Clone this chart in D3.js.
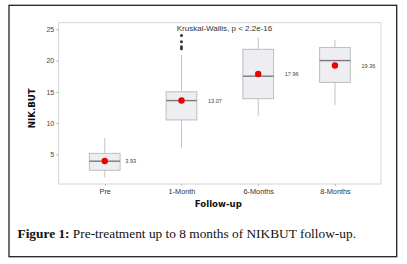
<!DOCTYPE html>
<html>
<head>
<meta charset="utf-8">
<script src="https://cdn.jsdelivr.net/npm/d3@7"></script>
<style>
  body { margin: 0; background: #fff; }
  svg { display: block; }
</style>
</head>
<body>
<div id="chart"></div>
<script>
const width = 407;
const height = 264;
const margin = { top: 22.7, right: 26, bottom: 80, left: 58.7 };

// values
const categories = ["Pre", "1-Month", "6-Months", "8-Months"];
const whiskerLow = [1.3, 6.0, 11.1, 12.9];
const q1 = [2.45, 10.5, 13.9, 16.5];
const median = [3.9, 13.6, 17.5, 20.0];
const q3 = [5.15, 15.0, 21.8, 22.1];
const whiskerHigh = [7.6, 20.9, 23.7, 23.3];
const meanValues = [3.93, 13.6, 17.85, 19.2];
const meanLabels = ["3.93", "13.07", "17.96", "19.36"];
const outliers = [[], [21.9, 22.2, 23.0, 24.0], [], []];
const yTicks = [5, 10, 15, 20, 25];

const svg = d3.select("#chart").append("svg")
  .attr("width", width)
  .attr("height", height)
  .attr("viewBox", [0, 0, width, height]);

// outer frame
svg.append("rect")
  .attr("x", 9).attr("y", 5.3)
  .attr("width", 387.7).attr("height", 251.4)
  .attr("fill", "none")
  .attr("stroke", "#222")
  .attr("stroke-width", 1.3);

const panelBottom = 184;
const x = d3.scalePoint()
  .domain(categories)
  .range([margin.left, width - margin.right])
  .padding(0.6);

const y = d3.scaleLinear()
  .domain([0.25, 26.06])
  .range([panelBottom, margin.top]);

const boxW = x.step() * 0.4;

// panel
svg.append("rect")
  .attr("x", margin.left).attr("y", margin.top)
  .attr("width", width - margin.right - margin.left)
  .attr("height", panelBottom - margin.top)
  .attr("fill", "#fff")
  .attr("stroke", "#d4d4d4")
  .attr("stroke-width", 1);

// y axis
const yAxis = svg.append("g")
  .attr("transform", `translate(${margin.left},0)`)
  .call(d3.axisLeft(y).tickValues(yTicks).tickSize(2.5).tickPadding(2));
yAxis.select(".domain").remove();
yAxis.selectAll("line").attr("stroke", "#bbb");
yAxis.selectAll("text")
  .attr("fill", "#444")
  .style("font", "7px 'Liberation Sans', Arial, sans-serif");

// x axis
const xAxis = svg.append("g")
  .attr("transform", `translate(0,${panelBottom})`)
  .call(d3.axisBottom(x).tickSize(2).tickPadding(2.5));
xAxis.select(".domain").remove();
xAxis.selectAll("line").attr("stroke", "#bbb");
xAxis.selectAll("text")
  .attr("fill", "#333")
  .style("font", "7.3px 'Liberation Sans', Arial, sans-serif");

const idx = d3.range(categories.length);

// whiskers
svg.append("g").selectAll("line.wlo")
  .data(idx).join("line")
  .attr("x1", i => x(categories[i])).attr("x2", i => x(categories[i]))
  .attr("y1", i => y(whiskerLow[i])).attr("y2", i => y(q1[i]))
  .attr("stroke", "#c4c4c4").attr("stroke-width", 1);
svg.append("g").selectAll("line.whi")
  .data(idx).join("line")
  .attr("x1", i => x(categories[i])).attr("x2", i => x(categories[i]))
  .attr("y1", i => y(whiskerHigh[i])).attr("y2", i => y(q3[i]))
  .attr("stroke", "#c4c4c4").attr("stroke-width", 1);

// boxes
svg.append("g").selectAll("rect")
  .data(idx).join("rect")
  .attr("x", i => x(categories[i]) - boxW / 2)
  .attr("y", i => y(q3[i]))
  .attr("width", boxW)
  .attr("height", i => y(q1[i]) - y(q3[i]))
  .attr("fill", "#eeeef2")
  .attr("stroke", "#bdbdbd")
  .attr("stroke-width", 1);

// medians
svg.append("g").selectAll("line")
  .data(idx).join("line")
  .attr("x1", i => x(categories[i]) - boxW / 2)
  .attr("x2", i => x(categories[i]) + boxW / 2)
  .attr("y1", i => y(median[i])).attr("y2", i => y(median[i]))
  .attr("stroke", "#7a7a7a").attr("stroke-width", 1.4);

// outliers
const outPts = idx.flatMap(i => outliers[i].map(v => ({ c: categories[i], v })));
svg.append("g").selectAll("circle")
  .data(outPts).join("circle")
  .attr("cx", d => x(d.c)).attr("cy", d => y(d.v))
  .attr("r", 1.5)
  .attr("fill", "#333");

// means
svg.append("g").selectAll("circle")
  .data(idx).join("circle")
  .attr("cx", i => x(categories[i])).attr("cy", i => y(meanValues[i]))
  .attr("r", 3.2)
  .attr("fill", "#ee0000");

svg.append("g").selectAll("text")
  .data(idx).join("text")
  .attr("x", i => x(categories[i]) + (i === 0 ? 20.5 : 26.5))
  .attr("y", i => y(meanValues[i]))
  .attr("dy", "0.35em")
  .attr("fill", "#444")
  .style("font", "5.6px 'Liberation Sans', Arial, sans-serif")
  .text(i => meanLabels[i]);

// test label
svg.append("text")
  .attr("x", 224.5).attr("y", 30.5)
  .attr("text-anchor", "middle")
  .attr("fill", "#333")
  .style("font", "8px 'Liberation Sans', Arial, sans-serif")
  .text("Kruskal-Wallis, p < 2.2e-16");

// axis titles
svg.append("text")
  .attr("x", 218.3).attr("y", 207.3)
  .attr("text-anchor", "middle")
  .attr("fill", "#111")
  .style("font", "bold 8.6px 'DejaVu Sans', sans-serif")
  .text("Follow-up");

svg.append("text")
  .attr("transform", "translate(34.8,108.3) rotate(-90)")
  .attr("text-anchor", "middle")
  .attr("fill", "#111")
  .style("font", "bold 8.6px 'DejaVu Sans', sans-serif")
  .text("NIK.BUT");

// caption
const cap = svg.append("text")
  .attr("x", 17.5).attr("y", 238)
  .attr("fill", "#111")
  .style("font", "12.5px 'Liberation Serif', 'DejaVu Serif', serif")
  .attr("textLength", 338.5)
  .attr("lengthAdjust", "spacingAndGlyphs");
cap.append("tspan").style("font-weight", "600").text("Figure 1:");
cap.append("tspan").text(" Pre-treatment up to 8 months of NIKBUT follow-up.");
</script>
</body>
</html>
